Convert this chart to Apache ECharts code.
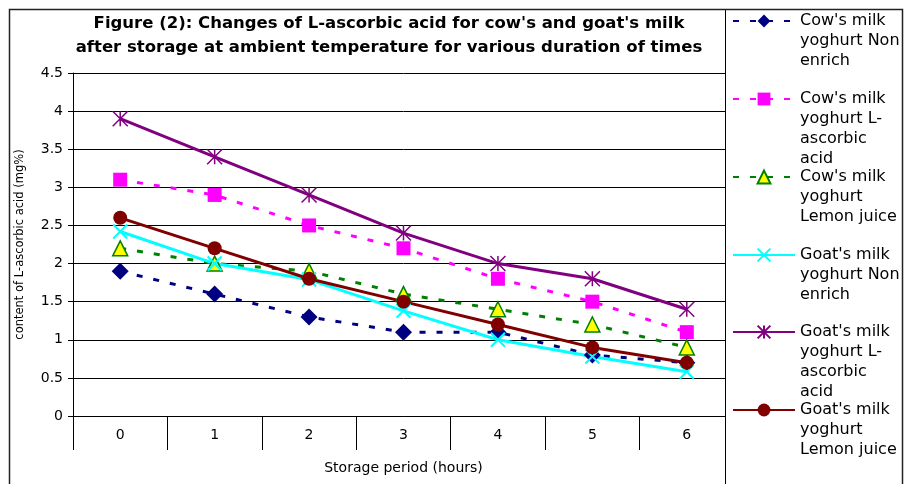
<!DOCTYPE html>
<html>
<head>
<meta charset="utf-8">
<script src="https://cdn.jsdelivr.net/npm/echarts@6/dist/echarts.min.js"></script>
<style>html,body{margin:0;padding:0;background:#fff}#c{width:904px;height:484px}</style>
</head>
<body>
<div id="c"></div>
<script>
var categories = ['0', '1', '2', '3', '4', '5', '6'];
var yTicks = { min: 0, max: 4.5, interval: 0.5 };
var cowNonEnrich = [1.9, 1.6, 1.3, 1.1, 1.1, 0.8, 0.7];
var cowAscorbic = [3.1, 2.9, 2.5, 2.2, 1.8, 1.5, 1.1];
var cowLemon = [2.2, 2.0, 1.9, 1.6, 1.4, 1.2, 0.9];
var goatNonEnrich = [2.42, 2.0, 1.79, 1.38, 1.0, 0.78, 0.58];
var goatAscorbic = [3.9, 3.4, 2.9, 2.4, 2.0, 1.8, 1.4];
var goatLemon = [2.6, 2.2, 1.8, 1.5, 1.2, 0.9, 0.7];
var seriesNames = [
  "Cow's milk yoghurt Non enrich",
  "Cow's milk yoghurt L-ascorbic acid",
  "Cow's milk yoghurt Lemon juice",
  "Goat's milk yoghurt Non enrich",
  "Goat's milk yoghurt L-ascorbic acid",
  "Goat's milk yoghurt Lemon juice"
];
var legendLines = [
  ["Cow's milk", "yoghurt Non", "enrich"],
  ["Cow's milk", "yoghurt L-", "ascorbic", "acid"],
  ["Cow's milk", "yoghurt", "Lemon juice"],
  ["Goat's milk", "yoghurt Non", "enrich"],
  ["Goat's milk", "yoghurt L-", "ascorbic", "acid"],
  ["Goat's milk", "yoghurt", "Lemon juice"]
];
var titleText = "Figure (2): Changes of L-ascorbic acid for cow's and goat's milk\nafter storage at ambient temperature for various duration of times";

var FONT = 'DejaVu Sans';
var LH = 20;
var legendCenters = [21, 99, 177, 255, 332, 410];

var legends = seriesNames.map(function (name, i) {
  var lines = legendLines[i];
  var blanks = [];
  for (var k = 0; k < lines.length - 1; k++) blanks.push('');
  var txt = blanks.concat(lines).join('\n');
  var h = LH * (2 * lines.length - 1);
  return {
    data: [name],
    orient: 'vertical',
    left: 732,
    top: legendCenters[i] - h / 2,
    padding: 0,
    itemWidth: 62,
    itemHeight: 16,
    z: 200,
    selectedMode: false,
    formatter: function () { return txt; },
    textStyle: { fontFamily: FONT, fontSize: 16, lineHeight: LH, color: '#000' }
  };
});

var dash = [6, 11];
var xPath = 'path://M0 0L10 10M10 0L0 10';
var starPath = 'path://M0 0L10 10M10 0L0 10M5 0L5 10';

var option = {
  animation: false,
  backgroundColor: '#fff',
  title: {
    text: titleText,
    left: 389,
    top: 12,
    padding: 0,
    textAlign: 'center',
    textStyle: { fontFamily: FONT, fontWeight: 'bold', fontSize: 16.5, lineHeight: 24, color: '#000' }
  },
  legend: legends,
  grid: { left: 73, right: 170, top: 73, bottom: 68, containLabel: false },
  xAxis: {
    type: 'category',
    data: categories,
    boundaryGap: true,
    axisLine: { show: true, lineStyle: { color: '#000', width: 1 } },
    axisTick: { show: true, interval: 0, length: 34, lineStyle: { color: '#000', width: 1 } },
    axisLabel: { interval: 0, margin: 12, color: '#000', fontFamily: FONT, fontSize: 14 },
    splitLine: { show: false },
    name: 'Storage period (hours)',
    nameLocation: 'middle',
    nameGap: 45,
    nameTextStyle: { color: '#000', fontFamily: FONT, fontSize: 14 }
  },
  yAxis: {
    type: 'value',
    min: yTicks.min,
    max: yTicks.max,
    interval: yTicks.interval,
    axisLine: { show: true, lineStyle: { color: '#000', width: 1 } },
    axisTick: { show: true, length: 5, lineStyle: { color: '#000' } },
    axisLabel: { margin: 10, color: '#000', fontFamily: FONT, fontSize: 14 },
    splitLine: { show: true, lineStyle: { color: '#000', width: 1 } },
    name: 'content of L-ascorbic acid (mg%)',
    nameLocation: 'middle',
    nameRotate: 90,
    nameGap: 47,
    nameTextStyle: { color: '#000', fontFamily: FONT, fontSize: 11.5 }
  },
  graphic: [
    { type: 'rect', z: 100, shape: { x: 725.5, y: 9.5, width: 177, height: 500 },
      style: { fill: '#fff', stroke: '#000', lineWidth: 1 } },
    { type: 'rect', z: 101, shape: { x: 9.5, y: 9.5, width: 893, height: 500 },
      style: { fill: 'none', stroke: '#222', lineWidth: 1.5 } }
  ],
  series: [
    { name: seriesNames[0], type: 'line', data: cowNonEnrich, symbol: 'diamond', symbolSize: 17,
      lineStyle: { color: '#000080', width: 3, type: dash },
      itemStyle: { color: '#000080' } },
    { name: seriesNames[1], type: 'line', data: cowAscorbic, symbol: 'rect', symbolSize: 14,
      lineStyle: { color: '#FF00FF', width: 3, type: dash },
      itemStyle: { color: '#FF00FF' } },
    { name: seriesNames[2], type: 'line', data: cowLemon, symbol: 'triangle', symbolSize: 15,
      lineStyle: { color: '#008000', width: 3, type: dash },
      itemStyle: { color: '#FFFF00', borderColor: '#008000', borderWidth: 1.5 } },
    { name: seriesNames[3], type: 'line', data: goatNonEnrich, symbol: xPath, symbolSize: 14,
      lineStyle: { color: '#00FFFF', width: 3 },
      itemStyle: { color: '#00FFFF', borderColor: '#00FFFF', borderWidth: 2 } },
    { name: seriesNames[4], type: 'line', data: goatAscorbic, symbol: starPath, symbolSize: 15,
      lineStyle: { color: '#800080', width: 3 },
      itemStyle: { color: '#800080', borderColor: '#800080', borderWidth: 1.5 } },
    { name: seriesNames[5], type: 'line', data: goatLemon, symbol: 'circle', symbolSize: 14,
      lineStyle: { color: '#800000', width: 3 },
      itemStyle: { color: '#800000' } }
  ]
};

var chart = echarts.init(document.getElementById('c'), null, { renderer: 'canvas' });
chart.setOption(option);
</script>
</body>
</html>
